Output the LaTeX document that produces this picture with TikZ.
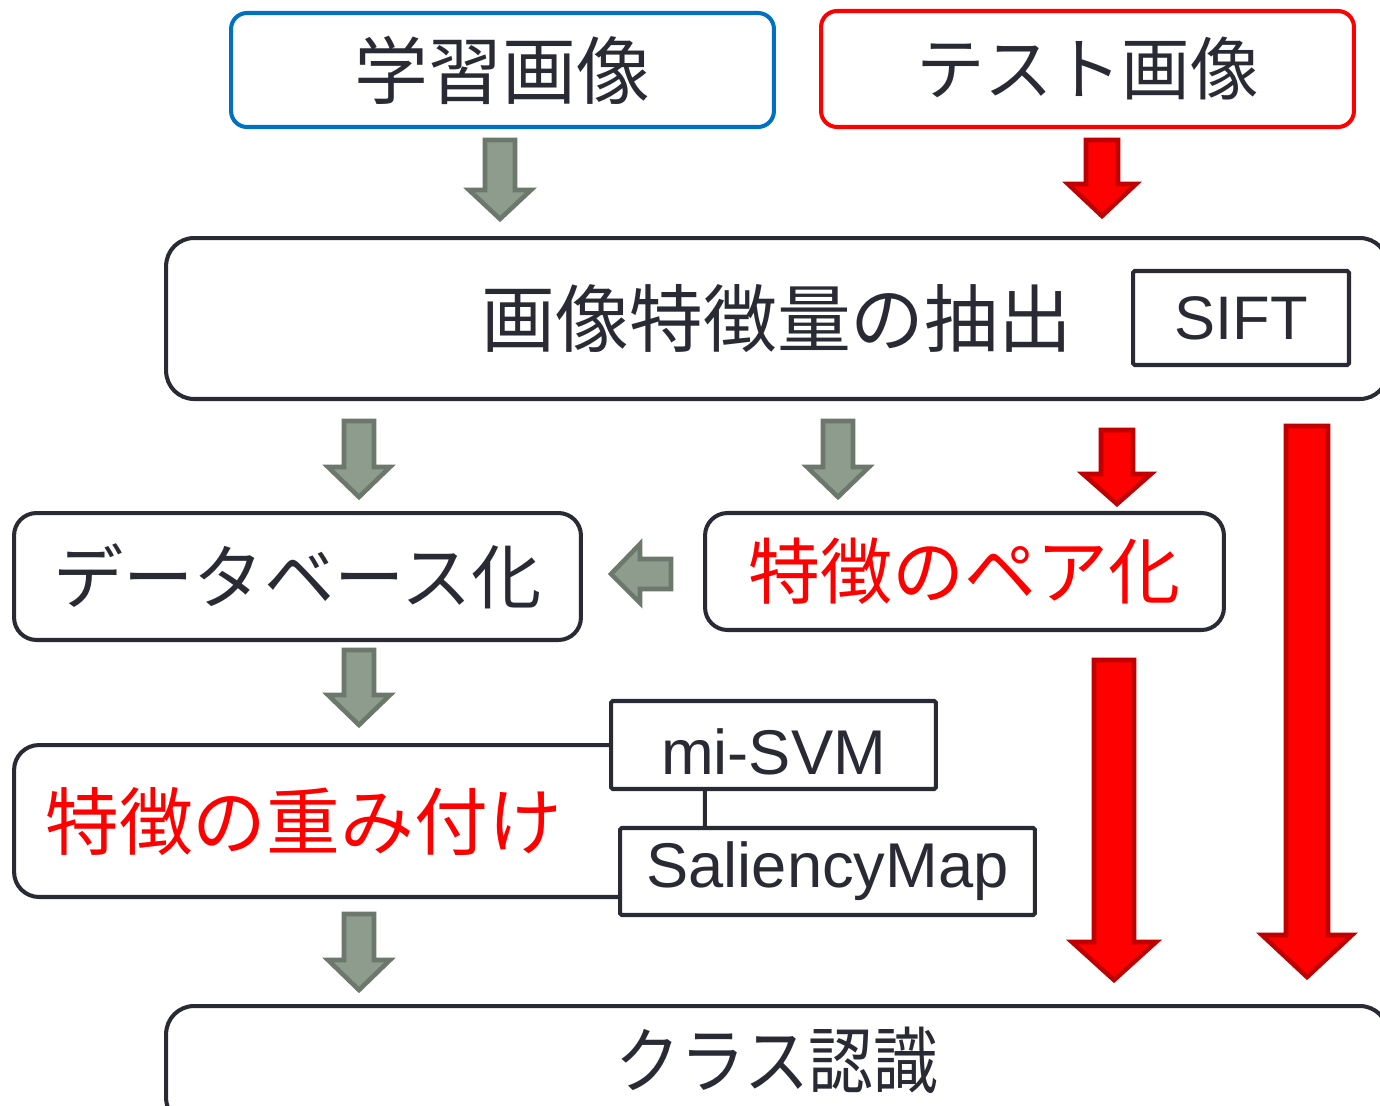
\documentclass[tikz,border=0pt]{standalone}
\usepackage{fontspec}
\setmainfont{Liberation Sans}
\newfontfamily\jpfont{Noto Sans CJK JP}
\definecolor{ink}{RGB}{42,42,52}
\definecolor{trainblue}{RGB}{0,112,192}
\definecolor{testred}{RGB}{255,0,0}
\definecolor{grayfill}{RGB}{142,156,142}
\definecolor{grayedge}{RGB}{107,120,107}
\definecolor{redfill}{RGB}{255,0,0}
\definecolor{rededge}{RGB}{192,0,0}
\newcommand\jsize[1]{\jpfont\fontsize{#1}{#1}\selectfont}
\newcommand\lsize[1]{\fontsize{#1}{#1}\selectfont}
% block arrow pointing down: fill, edge, cx, top, headstart, tip, shaft half, head half
\newcommand\blockdown[8]{%
  \filldraw[fill=#1,draw=#2,line width=2.6pt,line join=miter]
    ({#3-#7},#4) -- ({#3+#7},#4) -- ({#3+#7},#5) -- ({#3+#8},#5) -- (#3,#6)
    -- ({#3-#8},#5) -- ({#3-#7},#5) -- cycle;}
\tikzset{
  box/.style={draw=ink,line width=2.3pt,fill=white,inner sep=0pt,text=ink},
  flat/.style={box,rounded corners=1pt},
}
\begin{document}
\begin{tikzpicture}[x=0.02cm,y=-0.02cm]
\useasboundingbox (0,0) rectangle (1380,1106);
\clip (0,0) rectangle (1380,1106);

% top boxes
\node[box,draw=trainblue,rounded corners=0.32cm,minimum width=10.86cm,minimum height=2.28cm,font=\jsize{42}] (train) at (502.5,70) {学習画像};
\node[box,draw=testred,rounded corners=0.32cm,minimum width=10.66cm,minimum height=2.32cm,font=\jsize{39}] (test) at (1087.5,69) {テスト画像};

% feature extraction
\node[box,rounded corners=0.56cm,minimum width=24.44cm,minimum height=3.22cm,font=\jsize{42}] (feat) at (777,318.5) {画像特徴量の抽出};
\node[flat,minimum width=4.32cm,minimum height=1.88cm,font=\lsize{35}] (sift) at (1241,318) {SIFT};

% row 3
\node[box,rounded corners=0.45cm,minimum width=11.34cm,minimum height=2.54cm,font=\jsize{40}] (db) at (297.5,576.5) {データベース化};
\node[box,rounded corners=0.45cm,minimum width=10.38cm,minimum height=2.34cm,font=\jsize{41},text=testred] (pair) at (964.5,571.5) {特徴のペア化};

% weighting
\node[box,rounded corners=0.5cm,minimum width=13.82cm,minimum height=3.04cm] (weight) at (359.5,821) {};
\node[anchor=west,inner sep=0pt,font=\jsize{42},text=testred] (weightlabel) at (45,822) {特徴の重み付け};
\node[flat,minimum width=6.5cm,minimum height=1.76cm,font=\lsize{36},text height=34pt] (misvm) at (773.5,745) {mi-SVM};
\node[flat,minimum width=8.3cm,minimum height=1.74cm,font=\lsize{36}] (sal) at (827.5,871.5) {SaliencyMap};

% class recognition
\node[box,rounded corners=0.56cm,minimum width=24.44cm,minimum height=2.4cm] (cls) at (777,1066) {};
\node[inner sep=0pt,font=\jsize{41},text=ink,xscale=0.9] (clslabel) at (777,1060) {クラス認識};

% gray arrows
\blockdown{grayfill}{grayedge}{500}{140}{190}{219}{15}{31}
\blockdown{grayfill}{grayedge}{359}{421}{467}{497}{15}{31}
\blockdown{grayfill}{grayedge}{838}{421}{467}{497}{15}{31}
\blockdown{grayfill}{grayedge}{359}{650}{695}{725}{15}{31}
\blockdown{grayfill}{grayedge}{359}{914}{960}{990}{15}{31}
% left gray arrow
\filldraw[fill=grayfill,draw=grayedge,line width=2.6pt,line join=miter]
  (671,559) -- (640,559) -- (640,544) -- (611,574) -- (640,603) -- (640,589) -- (671,589) -- cycle;

% red arrows
\blockdown{redfill}{rededge}{1102}{140}{184}{216}{16}{34}
\blockdown{redfill}{rededge}{1117}{430}{474}{504}{16}{34}
\blockdown{redfill}{rededge}{1307}{426}{935}{977}{21}{45}
\blockdown{redfill}{rededge}{1114}{660}{942}{980}{20}{42}
\end{tikzpicture}
\end{document}
